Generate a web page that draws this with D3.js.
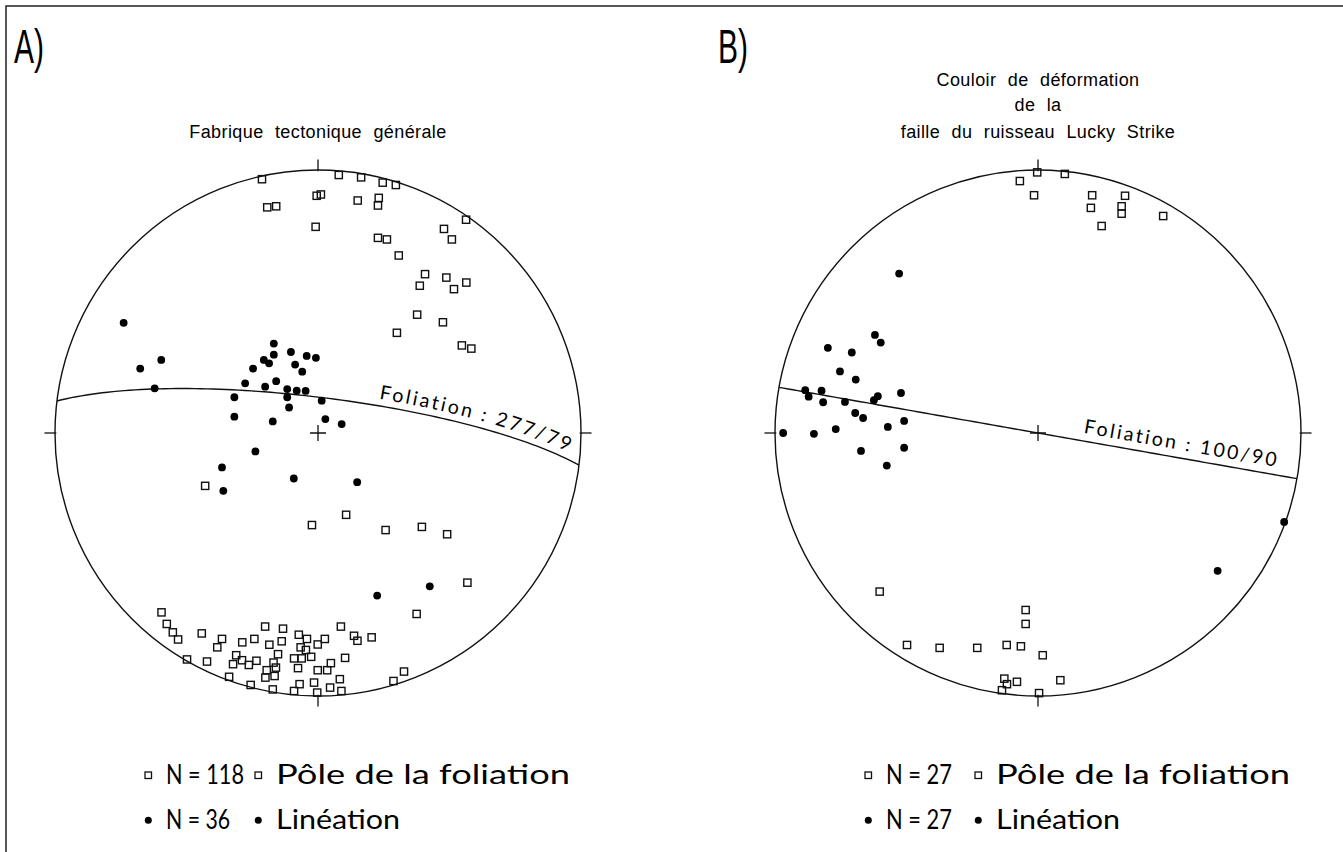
<!DOCTYPE html>
<html>
<head>
<meta charset="utf-8">
<script src="https://d3js.org/d3.v7.min.js"></script>
<style>
  body { margin: 0; background: #fff; }
  svg { display: block; }
  .title { font-family: "Liberation Sans", Arial, sans-serif; font-size: 18px; letter-spacing: 0.4px; word-spacing: 6px; }
  .panel { font-family: "Liberation Sans", Arial, sans-serif; font-size: 48px; }
  .leg { font-family: Lato, "Noto Sans", sans-serif; font-size: 26px; }
  .fol { font-family: Lato, "Noto Sans", sans-serif; font-size: 19.5px; letter-spacing: 2.4px; }
</style>
</head>
<body>
<svg id="chart" width="1343" height="852"></svg>
<script>
// net coordinates: x = east, y = north, unit circle = primitive
var polesA = [
  [-0.213,0.965],[0.079,0.981],[0.164,0.972],[0.246,0.952],[0.296,0.943],[-0.005,0.902],[0.011,0.907],
  [-0.193,0.858],[-0.159,0.862],[0.151,0.884],[0.231,0.894],[0.228,0.865],[0.563,0.811],[-0.009,0.784],
  [0.479,0.776],[0.509,0.736],[0.228,0.742],[0.262,0.736],[0.307,0.675],[0.407,0.604],[0.387,0.560],
  [0.488,0.591],[0.517,0.547],[0.564,0.572],[0.377,0.450],[0.475,0.421],[0.300,0.381],[0.547,0.333],[0.583,0.321],
  [-0.429,-0.201],[-0.023,-0.350],[0.107,-0.311],[0.257,-0.369],[0.395,-0.357],[0.491,-0.385],[0.568,-0.569],
  [0.375,-0.688],[-0.595,-0.682],[-0.575,-0.726],[-0.552,-0.758],[-0.532,-0.785],[-0.442,-0.762],[-0.365,-0.783],
  [-0.383,-0.815],[-0.288,-0.796],[-0.242,-0.783],[-0.201,-0.736],[-0.133,-0.744],[-0.185,-0.805],[-0.138,-0.792],
  [-0.073,-0.767],[-0.042,-0.783],[0.026,-0.783],[-0.001,-0.804],[0.087,-0.736],[0.137,-0.771],[0.150,-0.790],
  [0.204,-0.777],[-0.498,-0.861],[-0.422,-0.869],[-0.311,-0.845],[-0.323,-0.879],[-0.289,-0.864],[-0.263,-0.882],
  [-0.234,-0.866],[-0.152,-0.841],[-0.169,-0.873],[-0.160,-0.892],[-0.195,-0.902],[-0.165,-0.924],[-0.200,-0.930],
  [-0.091,-0.857],[-0.062,-0.857],[-0.026,-0.851],[-0.076,-0.894],[-0.066,-0.815],[-0.046,-0.825],[-0.001,-0.902],
  [0.035,-0.902],[0.049,-0.875],[0.103,-0.855],[0.083,-0.936],[0.046,-0.968],[0.089,-0.981],[-0.003,-0.987],
  [-0.070,-0.955],[-0.091,-0.981],[-0.015,-0.949],[-0.172,-0.975],[-0.256,-0.958],[-0.338,-0.927],[0.287,-0.943],
  [0.327,-0.907]
];
var lineationsA = [
  [-0.739,0.419],[-0.596,0.278],[-0.676,0.245],[-0.621,0.170],[-0.168,0.340],[-0.168,0.298],[-0.103,0.308],
  [-0.043,0.293],[-0.008,0.286],[-0.206,0.278],[-0.186,0.265],[-0.247,0.245],[-0.087,0.260],[-0.060,0.233],
  [-0.277,0.189],[-0.201,0.176],[-0.159,0.197],[-0.117,0.167],[-0.081,0.161],[-0.047,0.160],[-0.117,0.136],
  [0.014,0.123],[-0.318,0.136],[-0.110,0.097],[-0.318,0.062],[-0.172,0.044],[0.028,0.053],[0.090,0.034],
  [-0.238,-0.070],[-0.365,-0.131],[-0.360,-0.220],[-0.092,-0.173],[0.149,-0.187],[0.225,-0.618],[0.425,-0.583]
];
var polesB = [
  [-0.003,0.991],[0.102,0.985],[-0.069,0.958],[-0.015,0.904],[0.206,0.904],[0.331,0.902],[0.201,0.856],
  [0.318,0.834],[0.318,0.862],[0.476,0.825],[0.242,0.787],
  [-0.602,-0.603],[-0.047,-0.673],[-0.047,-0.726],[-0.498,-0.806],[-0.374,-0.817],[-0.231,-0.817],[-0.119,-0.806],
  [-0.065,-0.811],[0.018,-0.845],[-0.128,-0.934],[-0.080,-0.946],[-0.118,-0.955],[-0.137,-0.978],[0.085,-0.940],
  [0.004,-0.989]
];
var lineationsB = [
  [-0.528,0.606],[-0.620,0.373],[-0.598,0.344],[-0.799,0.324],[-0.708,0.306],[-0.753,0.234],[-0.693,0.203],
  [-0.885,0.163],[-0.872,0.138],[-0.823,0.161],[-0.817,0.117],[-0.734,0.118],[-0.624,0.125],[-0.609,0.140],
  [-0.521,0.152],[-0.695,0.076],[-0.665,0.057],[-0.571,0.023],[-0.509,0.046],[-0.969,0.000],[-0.852,-0.003],
  [-0.769,0.015],[-0.673,-0.068],[-0.509,-0.056],[-0.575,-0.124],[0.936,-0.338],[0.683,-0.524]
];
var panelLabels = ["A)", "B)"];
var titlesA = ["Fabrique tectonique générale"];
var titlesB = ["Couloir de déformation", "de la", "faille du ruisseau Lucky Strike"];
var foliationStrike = [277, 100];
var foliationDip = [79, 90];
var countPoles = [118, 27];
var countLineations = [36, 27];
var legendNames = ["Pôle de la foliation", "Linéation"];

var svg = d3.select("#chart");
svg.append("rect").attr("width", 1343).attr("height", 852).attr("fill", "#fff");

// frame (top + left only)
svg.append("path").attr("d", "M6,852 V6 H1343").attr("fill", "none").attr("stroke", "#222").attr("stroke-width", 1.5);

// great circle of a plane, equal-area lower hemisphere
function greatCircle(strike, dip) {
  var rad = Math.PI / 180, pts = [];
  var s = strike * rad, dd = (strike + 90) * rad, d = dip * rad;
  var S = [Math.sin(s), Math.cos(s), 0];
  var D = [Math.sin(dd) * Math.cos(d), Math.cos(dd) * Math.cos(d), -Math.sin(d)];
  for (var a = 0; a <= 180; a += 2) {
    var c = Math.cos(a * rad), sn = Math.sin(a * rad);
    var L = [c * S[0] + sn * D[0], c * S[1] + sn * D[1], c * S[2] + sn * D[2]];
    var plunge = Math.asin(Math.min(1, -L[2]));
    var trend = Math.atan2(L[0], L[1]);
    var r = Math.SQRT2 * Math.sin((Math.PI / 2 - plunge) / 2);
    pts.push([r * Math.sin(trend), r * Math.cos(trend)]);
  }
  if (pts[0][0] > pts[pts.length - 1][0]) pts.reverse();
  return pts;
}

function drawNet(i, cx, cy, R, poles, lins, labelOffset, labelDy) {
  var g = svg.append("g");
  var x = d3.scaleLinear().domain([-1, 1]).range([cx - R, cx + R]);
  var y = d3.scaleLinear().domain([-1, 1]).range([cy + R, cy - R]);

  g.append("circle").attr("cx", x(0)).attr("cy", y(0)).attr("r", x(1) - x(0))
    .attr("fill", "none").attr("stroke", "#111").attr("stroke-width", 1.4);

  // N E S W ticks
  var ticks = [[0, 1, 0, -1], [1, 0, 1, 0], [0, -1, 0, 1], [-1, 0, -1, 0]];
  g.selectAll(".tk").data(ticks).enter().append("line")
    .attr("x1", function (d) { return x(d[0] * 0.995); })
    .attr("y1", function (d) { return y(d[1] * 0.995); })
    .attr("x2", function (d) { return x(d[0] * 1.04); })
    .attr("y2", function (d) { return y(d[1] * 1.04); })
    .attr("stroke", "#111").attr("stroke-width", 1.3);

  // centre cross
  g.append("path")
    .attr("d", "M" + (x(0) - 8) + "," + y(0) + "H" + (x(0) + 8) + "M" + x(0) + "," + (y(0) - 8) + "V" + (y(0) + 8))
    .attr("stroke", "#111").attr("stroke-width", 1.3);

  // foliation great circle
  var line = d3.line().x(function (d) { return x(d[0]); }).y(function (d) { return y(d[1]); });
  g.append("path").attr("id", "fol" + i).attr("d", line(greatCircle(foliationStrike[i], foliationDip[i])))
    .attr("fill", "none").attr("stroke", "#111").attr("stroke-width", 1.4);
  g.append("text").attr("class", "fol").attr("dy", labelDy)
    .append("textPath").attr("href", "#fol" + i).attr("startOffset", labelOffset).attr("text-anchor", "end")
    .text("Foliation  :  " + foliationStrike[i] + "/" + foliationDip[i]);

  // poles (open squares)
  g.selectAll(".pole").data(poles).enter().append("rect")
    .attr("x", function (d) { return x(d[0]) - 3.6; })
    .attr("y", function (d) { return y(d[1]) - 3.6; })
    .attr("width", 7.2).attr("height", 7.2)
    .attr("fill", "none").attr("stroke", "#111").attr("stroke-width", 1.4);

  // lineations (dots)
  g.selectAll(".lin").data(lins).enter().append("circle")
    .attr("cx", function (d) { return x(d[0]); })
    .attr("cy", function (d) { return y(d[1]); })
    .attr("r", 3.9).attr("fill", "#000");
}

drawNet(0, 318, 433, 263, polesA, lineationsA, "97.5%", -7);
drawNet(1, 1038, 433, 263, polesB, lineationsB, "96%", -8);

// panel labels
svg.selectAll(".panel").data(panelLabels).enter().append("text").attr("class", "panel")
  .attr("x", function (d, i) { return i === 0 ? 14 : 718; }).attr("y", 63)
  .attr("textLength", 30).attr("lengthAdjust", "spacingAndGlyphs")
  .text(function (d) { return d; });

// titles
svg.selectAll(".tA").data(titlesA).enter().append("text").attr("class", "title")
  .attr("x", 318).attr("y", 138).attr("text-anchor", "middle").text(function (d) { return d; });
svg.selectAll(".tB").data(titlesB).enter().append("text").attr("class", "title")
  .attr("x", 1038).attr("y", function (d, i) { return [86, 111, 138][i]; })
  .attr("text-anchor", "middle").text(function (d) { return d; });

// legends
var legWidthCol1 = { "N = 118": 78, "N = 36": 64, "N = 27": 66 };
var legWidthCol2 = [294, 124];
function legend(x0, i) {
  var g = svg.append("g");
  var rows = [
    { sym: "sq", txt: "N = " + countPoles[i], y: 775 },
    { sym: "dot", txt: "N = " + countLineations[i], y: 820 }
  ];
  rows.forEach(function (r, k) {
    [0, 110].forEach(function (dx, col) {
      if (r.sym === "sq") {
        g.append("rect").attr("x", x0 + dx - 3).attr("y", r.y - 3).attr("width", 6.5).attr("height", 6.5)
          .attr("fill", "none").attr("stroke", "#111").attr("stroke-width", 1.3);
      } else {
        g.append("circle").attr("cx", x0 + dx + 0.3).attr("cy", r.y + 0.3).attr("r", 3.5).attr("fill", "#000");
      }
      var t = col === 0 ? r.txt : legendNames[k];
      g.append("text").attr("class", "leg").attr("x", x0 + dx + 18).attr("y", r.y + 9)
        .attr("textLength", col === 0 ? legWidthCol1[t] : legWidthCol2[k])
        .attr("lengthAdjust", "spacingAndGlyphs")
        .text(t);
    });
  });
}
legend(148, 0);
legend(868, 1);
</script>
</body>
</html>
